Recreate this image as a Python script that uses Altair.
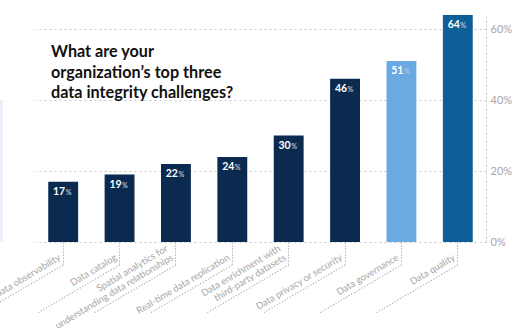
import altair as alt
import pandas as pd

categories = [
    "Data observability",
    "Data catalog",
    "Spatial analytics for|understanding data relationships",
    "Real-time data replication",
    "Data enrichment with|third-party datasets",
    "Data privacy or security",
    "Data governance",
    "Data quality",
]
values = [17, 19, 22, 24, 30, 46, 51, 64]
colors = ["#0b2a4f"] * 6 + ["#6aaae2", "#0c5f97"]
title_lines = ["What are your", "organization\u2019s top three", "data integrity challenges?"]
y_ticks = [0, 10, 20, 30, 40, 50, 60]

df = pd.DataFrame({"cat": categories, "value": values, "color": colors})
df["last_line"] = [c.split("|")[-1] for c in categories]
df["first_line"] = [c.split("|")[0] if "|" in c else "" for c in categories]
one = pd.DataFrame({"k": [0]})

W, H = 451, 227
FONT = "Lato"
GREY = "#a9a9a9"

x_axis = alt.Axis(
    title=None, domain=False, ticks=True, tickSize=22, tickColor=GREY,
    tickDash=[1.2, 1.8], tickWidth=1.1, labels=False,
)
x_scale = alt.Scale(paddingInner=0.47, paddingOuter=0.235)
x = alt.X("cat:N", sort=categories, scale=x_scale, axis=x_axis)
x_plain = alt.X("cat:N", sort=categories, scale=x_scale)

y_axis = alt.Axis(
    orient="right", values=y_ticks, title=None, grid=True, gridDash=[2, 3],
    gridColor="#c8c8c8", ticks=False, domain=True, domainDash=[2, 2],
    domainColor="#c8c8c8",
    labelExpr="datum.value % 20 == 0 ? datum.value + '%' : ''",
    labelPadding=4, labelFontSize=11, labelColor="#a6a6a6", labelFont=FONT,
)
y_scale = alt.Scale(domain=[0, 64], nice=False)
y = alt.Y("value:Q", scale=y_scale, axis=y_axis)
y_plain = alt.Y("value:Q", scale=y_scale)

base = alt.Chart(df)

bars = base.mark_bar().encode(x=x, y=y, color=alt.Color("color:N", scale=None))

nums = base.mark_text(align="right", baseline="alphabetic", dx=2, dy=13,
                      fontWeight="bold", fontSize=10.5, color="white", font=FONT).encode(
    x=x_plain, y=y_plain, text="value:Q")
pct = base.mark_text(align="left", baseline="alphabetic", dx=2.5, dy=13,
                     fontSize=7, fontWeight="bold", color="#b5c2d3", font=FONT).encode(
    x=x_plain, y=y_plain, text=alt.value("%"))

leaders = base.mark_rule(strokeDash=[1.2, 1.8], color=GREY, strokeWidth=1.1,
                         x2Offset=-82).encode(
    x=x_plain, x2=alt.X2("cat:N"), y=alt.value(250), y2=alt.value(298))

lab_style = dict(align="right", baseline="bottom", angle=329, fontSize=9.5,
                 font=FONT, color="#a6a6a6", xOffset=-1)
labels_last = base.mark_text(**lab_style).encode(
    x=x_plain, y=alt.value(H + 19), text="last_line:N")
labels_first = base.mark_text(dy=-10.5, **lab_style).encode(
    x=x_plain, y=alt.value(H + 19), text="first_line:N")

title = alt.Chart(one).mark_text(align="left", baseline="alphabetic", lineHeight=20.5,
                                 fontSize=16.2, fontWeight="bold", font=FONT,
                                 color="#111111").encode(
    x=alt.value(16), y=alt.value(42), text=alt.value(title_lines))

strip = alt.Chart(one).mark_rect(color="#eeeef8").encode(
    x=alt.value(-35), x2=alt.value(-32), y=alt.value(85), y2=alt.value(227))

chart = alt.layer(bars, strip, leaders, labels_last, labels_first, nums, pct, title).properties(
    width=W, height=H, autosize="none",
    padding={"left": 35, "top": 15, "right": 45, "bottom": 93},
).configure_view(stroke=None)

chart.save("out.html", embed_options={"renderer": "svg", "actions": False})
